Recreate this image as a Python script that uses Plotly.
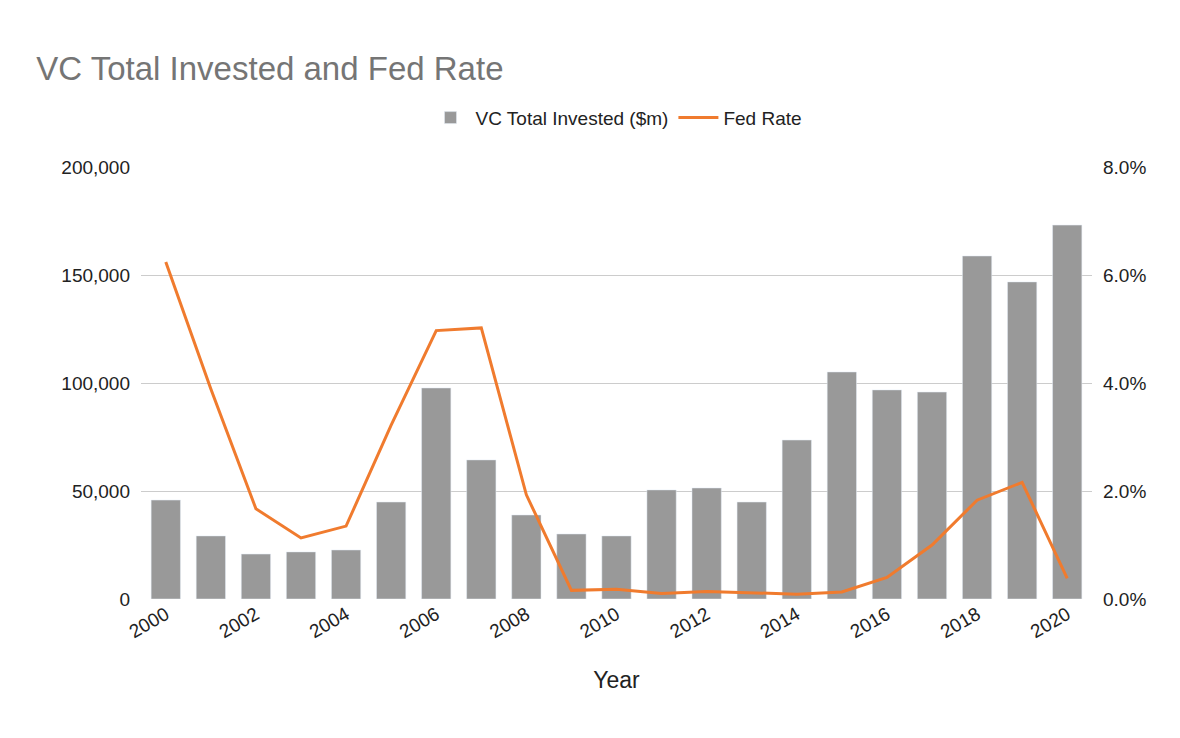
import plotly.graph_objects as go

years = list(range(2000, 2021))
vc_invested = [45800, 29200, 20800, 21800, 22700, 44900, 97700, 64400, 38900, 30100, 29200,
               50500, 51400, 44900, 73600, 105100, 96800, 95800, 158800, 146800, 173100]
fed_rate = [6.24, 3.89, 1.67, 1.13, 1.35, 3.22, 4.97, 5.02, 1.93, 0.16, 0.18,
            0.10, 0.14, 0.11, 0.09, 0.13, 0.40, 1.00, 1.83, 2.16, 0.38]
fed_rate = [v / 100 for v in fed_rate]

fig = go.Figure()
fig.add_trace(go.Bar(x=years, y=vc_invested, name="VC Total Invested ($m)",
                     marker_color="#999999", width=0.65))
fig.add_trace(go.Scatter(x=years, y=fed_rate, name="Fed Rate", yaxis="y2",
                         mode="lines", line=dict(color="#f07b2e", width=3)))

fig.update_layout(
    width=1180, height=738,
    paper_bgcolor="white", plot_bgcolor="white",
    font=dict(family="Liberation Sans, Arial", size=19, color="#222222"),
    title=dict(text="VC Total Invested and Fed Rate", x=0.024, y=0.918, yanchor="middle",
               yref="container", font=dict(size=33, color="#757575")),
    legend=dict(orientation="h", x=0.5, xanchor="center", y=1.07, yanchor="bottom",
                font=dict(size=19, color="#222222"), itemwidth=40, tracegroupgap=30),
    margin=dict(l=133, r=96, t=159, b=147),
    bargap=0.3,
    xaxis=dict(title=dict(text="Year", standoff=30), tickmode="array",
               tickvals=years[::2], tickangle=-30, showgrid=False,
               range=[1999.45, 2020.55], ticks=""),
    yaxis=dict(range=[0, 200000], dtick=50000, tickformat=",", gridcolor="#cccccc",
               zeroline=True, zerolinecolor="#222222", zerolinewidth=1.5,
               ticks="", ticklabelstandoff=10),
    yaxis2=dict(range=[0, 0.08], dtick=0.02, tickformat=".1%", overlaying="y",
                side="right", showgrid=False, ticks="", ticklabelstandoff=10),
)

fig.write_html("out.html")
